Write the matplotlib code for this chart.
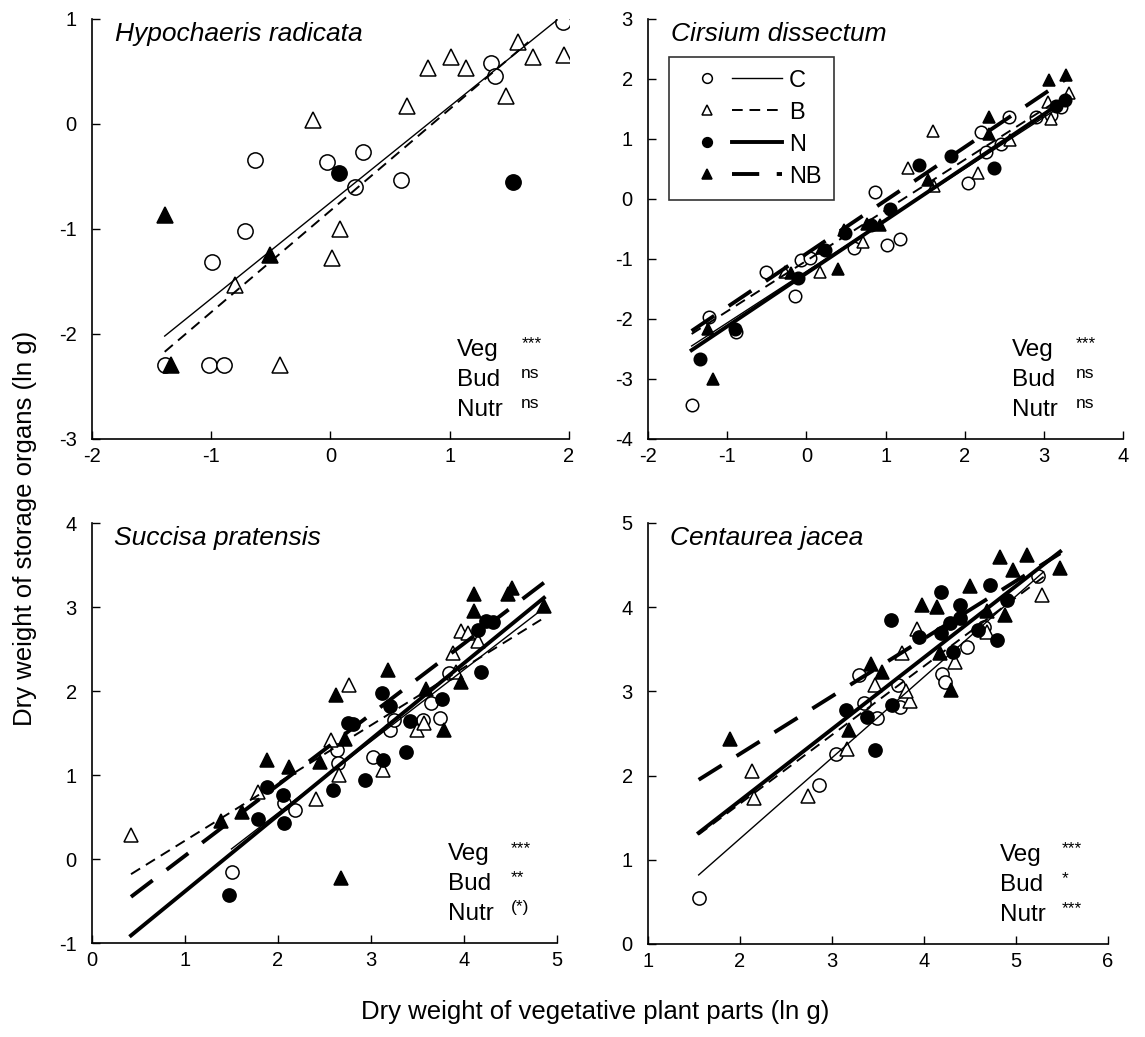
import matplotlib
matplotlib.use("Agg")
import matplotlib.pyplot as plt
from matplotlib.lines import Line2D
from matplotlib.legend_handler import HandlerTuple

plt.rcParams['font.family'] = ['Liberation Sans', 'DejaVu Sans']
plt.rcParams['axes.unicode_minus'] = False

# --- data (ln g) ---
# Hypochaeris radicata
hyp_C_x = [1.95, 1.35, 1.38, 0.27, -0.03, 0.59, 0.21, -0.63, -0.72, -0.99, -1.39, -1.02, -0.89]
hyp_C_y = [0.97, 0.58, 0.46, -0.27, -0.36, -0.53, -0.60, -0.34, -1.02, -1.31, -2.30, -2.30, -2.30]
hyp_B_x = [1.57, 1.70, 1.96, 1.01, 1.14, 0.82, 1.47, 0.64, -0.15, 0.08, 0.01, -0.80, -0.42]
hyp_B_y = [0.78, 0.64, 0.66, 0.64, 0.53, 0.53, 0.27, 0.17, 0.04, -1.00, -1.28, -1.53, -2.30]
hyp_N_x = [0.07, 1.53]
hyp_N_y = [-0.47, -0.55]
hyp_NB_x = [-1.39, -0.51, -1.34]
hyp_NB_y = [-0.87, -1.25, -2.30]

# Cirsium dissectum
cir_C_x = [-1.45, -1.23, -0.89, -0.51, -0.14, -0.07, 0.05, 0.60, 0.87, 1.02, 1.18, 2.04, 2.20, 2.27,
           2.46, 2.56, 2.90, 3.09, 3.22]
cir_C_y = [-3.43, -1.96, -2.21, -1.21, -1.61, -1.01, -0.98, -0.82, 0.11, -0.77, -0.67, 0.27, 1.11, 0.79,
           0.92, 1.37, 1.37, 1.40, 1.54]
cir_B_x = [-0.27, 0.17, 0.71, 1.28, 1.60, 1.61, 2.17, 2.57, 3.05, 3.09, 3.32]
cir_B_y = [-1.21, -1.21, -0.71, 0.51, 1.13, 0.22, 0.43, 0.98, 1.62, 1.34, 1.76]
cir_N_x = [-1.35, -0.90, -0.11, 0.23, 0.49, 0.81, 1.06, 1.42, 1.82, 2.37, 3.15, 3.26]
cir_N_y = [-2.67, -2.17, -1.32, -0.85, -0.57, -0.43, -0.17, 0.57, 0.71, 0.51, 1.55, 1.65]
cir_NB_x = [-1.18, -1.24, -0.19, 0.19, 0.40, 0.48, 0.76, 0.93, 1.54, 2.30, 2.31, 3.06, 3.28]
cir_NB_y = [-3.00, -2.16, -1.24, -0.82, -1.17, -0.52, -0.41, -0.43, 0.32, 1.36, 1.09, 1.98, 2.07]

# Succisa pratensis
suc_C_x = [1.51, 2.06, 2.18, 2.63, 2.65, 3.02, 3.20, 3.25, 3.65, 3.56, 3.74, 3.84]
suc_C_y = [-0.15, 0.67, 0.58, 1.30, 1.14, 1.22, 1.54, 1.66, 1.86, 1.66, 1.68, 2.21]
suc_B_x = [0.42, 1.79, 2.41, 2.57, 2.66, 2.76, 3.13, 3.50, 3.57, 3.88, 3.97, 4.04, 4.15, 3.92]
suc_B_y = [0.29, 0.80, 0.71, 1.42, 1.00, 2.07, 1.06, 1.54, 1.62, 2.45, 2.71, 2.69, 2.59, 2.23]
suc_N_x = [1.47, 1.79, 1.88, 2.05, 2.06, 2.59, 2.75, 2.81, 2.94, 3.12, 3.13, 3.20, 3.38, 3.42,
           3.76, 4.18, 4.15, 4.24, 4.31]
suc_N_y = [-0.43, 0.48, 0.86, 0.76, 0.43, 0.82, 1.62, 1.61, 0.94, 1.98, 1.18, 1.82, 1.28, 1.64,
           1.91, 2.23, 2.73, 2.83, 2.82]
suc_NB_x = [1.39, 1.61, 1.88, 2.12, 2.45, 2.62, 2.68, 2.72, 3.18, 3.79, 3.59, 3.97, 4.11, 4.11,
            4.47, 4.52, 4.86]
suc_NB_y = [0.45, 0.56, 1.18, 1.10, 1.16, 1.95, -0.23, 1.43, 2.25, 1.54, 2.03, 2.11, 3.15, 2.95,
            3.16, 3.23, 3.01]

# Centaurea jacea
cen_C_x = [1.55, 2.86, 3.04, 3.35, 3.49, 3.29, 3.72, 3.74, 4.19, 4.23, 5.24, 4.47, 4.65]
cen_C_y = [0.55, 1.89, 2.26, 2.86, 2.68, 3.19, 3.08, 2.82, 3.21, 3.11, 4.37, 3.53, 3.77]
cen_B_x = [2.13, 2.15, 2.74, 3.16, 3.47, 3.76, 3.92, 3.85, 3.80, 4.34, 5.28, 4.68]
cen_B_y = [2.05, 1.73, 1.76, 2.32, 3.08, 3.45, 3.74, 2.88, 3.00, 3.35, 4.14, 3.71]
cen_N_x = [3.15, 3.38, 3.47, 3.64, 3.65, 3.94, 4.18, 4.18, 4.28, 4.32, 4.39, 4.39, 4.72, 4.79,
           4.90, 4.59]
cen_N_y = [2.78, 2.70, 2.30, 3.85, 2.84, 3.65, 4.18, 3.69, 3.81, 3.47, 4.02, 3.87, 4.26, 3.61,
           4.08, 3.73]
cen_NB_x = [1.89, 3.18, 3.42, 3.54, 3.98, 4.14, 4.17, 4.29, 4.50, 4.68, 4.83, 4.97, 5.12, 5.48, 4.88]
cen_NB_y = [2.44, 2.54, 3.33, 3.23, 4.02, 4.00, 3.45, 3.02, 4.25, 3.96, 4.60, 4.44, 4.62, 4.46, 3.91]

# regression lines: (x start, x end), (y start, y end)
hyp_fit = {'C': ([-1.39, 1.90], [-2.02, 0.99]), 'B': ([-1.39, 1.66], [-2.17, 0.78])}
cir_fit = {'C': ([-1.45, 3.30], [-2.45, 1.62]), 'B': ([-1.45, 3.30], [-2.25, 1.75]),
           'N': ([-1.45, 3.30], [-2.52, 1.68]), 'NB': ([-1.45, 3.30], [-2.20, 2.02])}
suc_fit = {'C': ([1.50, 4.85], [0.12, 2.98]), 'B': ([0.42, 4.83], [-0.18, 2.85]),
           'N': ([0.42, 4.86], [-0.91, 3.11]), 'NB': ([0.42, 4.86], [-0.45, 3.29])}
cen_fit = {'C': ([1.55, 5.30], [0.82, 4.42]), 'B': ([1.55, 5.30], [1.30, 4.36]),
           'N': ([1.55, 5.48], [1.32, 4.66]), 'NB': ([1.55, 5.48], [1.95, 4.64])}

titles = ['Hypochaeris radicata', 'Cirsium dissectum', 'Succisa pratensis', 'Centaurea jacea']
signif = [['***', 'ns', 'ns'], ['***', 'ns', 'ns'], ['***', '**', '(*)'], ['***', '*', '***']]
factors = ['Veg', 'Bud', 'Nutr']

marker_style = {
    'C': dict(marker='o', mfc='white', mec='black'),
    'B': dict(marker='^', mfc='white', mec='black'),
    'N': dict(marker='o', mfc='black', mec='black'),
    'NB': dict(marker='^', mfc='black', mec='black'),
}
line_style = {
    'C': dict(color='black', lw=1.0, ls='-'),
    'B': dict(color='black', lw=1.4, ls=(0, (5.5, 3.5))),
    'N': dict(color='black', lw=2.8, ls='-'),
    'NB': dict(color='black', lw=2.8, ls=(0, (7, 4.5))),
}

fig = plt.figure(figsize=(11.45, 10.37), dpi=100)
ax1 = fig.add_axes([0.0803, 0.5767, 0.4166, 0.405])
ax2 = fig.add_axes([0.5660, 0.5767, 0.4150, 0.405])
ax3 = fig.add_axes([0.0803, 0.0906, 0.4061, 0.405])
ax4 = fig.add_axes([0.5660, 0.0897, 0.4017, 0.406])

panels = [
    (ax1, {'C': (hyp_C_x, hyp_C_y), 'B': (hyp_B_x, hyp_B_y), 'N': (hyp_N_x, hyp_N_y), 'NB': (hyp_NB_x, hyp_NB_y)},
     hyp_fit, (-2, 2), (-3, 1), 11),
    (ax2, {'C': (cir_C_x, cir_C_y), 'B': (cir_B_x, cir_B_y), 'N': (cir_N_x, cir_N_y), 'NB': (cir_NB_x, cir_NB_y)},
     cir_fit, (-2, 4), (-4, 3), 9),
    (ax3, {'C': (suc_C_x, suc_C_y), 'B': (suc_B_x, suc_B_y), 'N': (suc_N_x, suc_N_y), 'NB': (suc_NB_x, suc_NB_y)},
     suc_fit, (0, 5), (-1, 4), 9.5),
    (ax4, {'C': (cen_C_x, cen_C_y), 'B': (cen_B_x, cen_B_y), 'N': (cen_N_x, cen_N_y), 'NB': (cen_NB_x, cen_NB_y)},
     cen_fit, (1, 6), (0, 5), 9.5),
]

for i, (ax, pts, fit, xl, yl, ms) in enumerate(panels):
    for g in ['C', 'B', 'N', 'NB']:
        x, y = pts[g]
        ax.plot(x, y, ls='none', ms=ms, mew=1.1, zorder=3, **marker_style[g])
    for g, (fx, fy) in fit.items():
        ax.plot(fx, fy, zorder=4, **line_style[g])
    ax.set_xlim(*xl)
    ax.set_ylim(*yl)
    ax.set_xticks(range(xl[0], xl[1] + 1))
    ax.set_yticks(range(yl[0], yl[1] + 1))
    ax.spines['top'].set_visible(False)
    ax.spines['right'].set_visible(False)
    ax.spines['left'].set_linewidth(1.2)
    ax.spines['bottom'].set_linewidth(1.2)
    ax.tick_params(direction='in', length=6, width=1, labelsize=14.5)
    ax.tick_params(axis='x', pad=6)
    ax.tick_params(axis='y', pad=11)
    ax.text(0.048, 0.965, titles[i], transform=ax.transAxes, fontsize=19, style='italic',
            ha='left', va='center')
    for k, (f, s) in enumerate(zip(factors, signif[i])):
        yy = 0.212 - k * 0.071
        ax.text(0.765, yy, f, transform=ax.transAxes, fontsize=17.5, ha='left', va='center')
        ax.text(0.9, yy + 0.014, s, transform=ax.transAxes, fontsize=12.5, ha='left', va='center')

# legend in Cirsium panel
handles = []
for g in ['C', 'B', 'N', 'NB']:
    m = Line2D([], [], ls='none', ms=7, mew=1.1, **marker_style[g])
    ln = Line2D([], [], **line_style[g])
    handles.append((m, ln))
leg = ax2.legend(handles, ['C', 'B', 'N', 'NB'], handler_map={tuple: HandlerTuple(ndivide=None, pad=0.0)},
                 loc='upper left', bbox_to_anchor=(0.045, 0.91), borderaxespad=0, fontsize=17,
                 handlelength=4.2, handletextpad=0.3, labelspacing=0.42, borderpad=0.55,
                 frameon=True, fancybox=False)
leg.get_frame().set_edgecolor('black')
leg.get_frame().set_linewidth(1.2)

fig.text(0.022, 0.49, 'Dry weight of storage organs (ln g)', rotation=90, fontsize=18.5,
         ha='center', va='center')
fig.text(0.52, 0.024, 'Dry weight of vegetative plant parts (ln g)', fontsize=18.5,
         ha='center', va='center')

fig.savefig('out.png', dpi=100)
